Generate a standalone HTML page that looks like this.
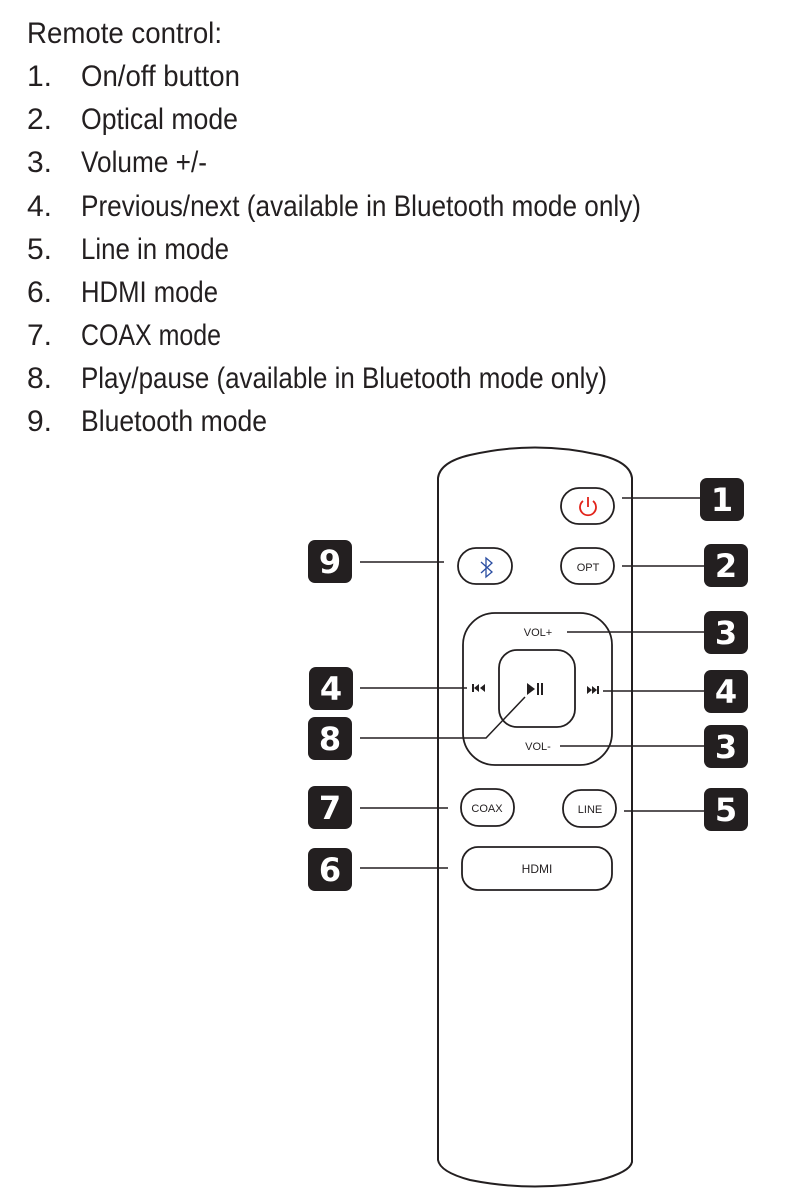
<!DOCTYPE html>
<html><head><meta charset="utf-8"><style>html,body{margin:0;padding:0;background:#fff}svg{display:block}</style></head><body>
<svg width="800" height="1200" viewBox="0 0 800 1200" xmlns="http://www.w3.org/2000/svg" font-family="Liberation Sans Narrow, Liberation Sans, sans-serif">
<g fill="#231f20" font-size="30" lengthAdjust="spacingAndGlyphs">
<text x="27" y="43" textLength="195" lengthAdjust="spacingAndGlyphs">Remote control:</text>
<text x="27" y="86">1.</text><text x="81" y="86" textLength="159" lengthAdjust="spacingAndGlyphs">On/off button</text>
<text x="27" y="129">2.</text><text x="81" y="129" textLength="157" lengthAdjust="spacingAndGlyphs">Optical mode</text>
<text x="27" y="172">3.</text><text x="81" y="172" textLength="126" lengthAdjust="spacingAndGlyphs">Volume +/-</text>
<text x="27" y="216">4.</text><text x="81" y="216" textLength="560" lengthAdjust="spacingAndGlyphs">Previous/next (available in Bluetooth mode only)</text>
<text x="27" y="259">5.</text><text x="81" y="259" textLength="148" lengthAdjust="spacingAndGlyphs">Line in mode</text>
<text x="27" y="302">6.</text><text x="81" y="302" textLength="137" lengthAdjust="spacingAndGlyphs">HDMI mode</text>
<text x="27" y="345">7.</text><text x="81" y="345" textLength="140" lengthAdjust="spacingAndGlyphs">COAX mode</text>
<text x="27" y="388">8.</text><text x="81" y="388" textLength="526" lengthAdjust="spacingAndGlyphs">Play/pause (available in Bluetooth mode only)</text>
<text x="27" y="431">9.</text><text x="81" y="431" textLength="186" lengthAdjust="spacingAndGlyphs">Bluetooth mode</text>
</g>
<!-- remote body -->
<path d="M438,1160 L438,478 Q440,462 470,455 Q535,440 600,455 Q630,462 632,478 L632,1162 Q630,1172 600,1180 Q535,1193 470,1180 Q440,1172 438,1160 Z" fill="none" stroke="#231f20" stroke-width="2"/>
<g fill="none" stroke="#231f20" stroke-width="1.8">
<rect x="561" y="488" width="53" height="36" rx="18"/>
<rect x="458" y="548" width="54" height="36" rx="18"/>
<rect x="561" y="548" width="53" height="36" rx="18"/>
<rect x="463" y="613" width="149" height="152" rx="32"/>
<rect x="499" y="650" width="76" height="77" rx="18"/>
<rect x="461" y="789" width="53" height="37" rx="18"/>
<rect x="563" y="790" width="53" height="37" rx="18"/>
<rect x="462" y="847" width="150" height="43" rx="16"/>
</g>
<!-- power icon -->
<g fill="none" stroke="#e2231a" stroke-width="1.8"><path d="M583,501 A8,8 0 1 0 593,501"/><line x1="588" y1="497" x2="588" y2="507"/></g>
<!-- bluetooth -->
<path d="M481,562 L492,572 L486,577 L486,558 L492,563 L481,573" fill="none" stroke="#2b4ea2" stroke-width="1.3"/>
<g font-family="Liberation Sans, sans-serif" fill="#231f20" text-anchor="middle">
<text x="588" y="571" font-size="11">OPT</text>
<text x="538" y="636" font-size="11">VOL+</text>
<text x="538" y="750" font-size="11">VOL-</text>
<text x="487" y="812" font-size="11">COAX</text>
<text x="590" y="813" font-size="11">LINE</text>
<text x="537" y="873" font-size="12">HDMI</text>
</g>
<!-- prev/next/play -->
<g fill="#231f20">
<rect x="472" y="684" width="2" height="8"/><polygon points="479,684 474,688 479,692"/><polygon points="485,684 480,688 485,692"/>
<polygon points="587,686 592,690 587,694"/><polygon points="592,686 597,690 592,694"/><rect x="597" y="686" width="2" height="8"/>
<polygon points="527,683 535,689 527,695"/><rect x="537" y="683" width="2" height="12"/><rect x="541" y="683" width="2" height="12"/>
</g>
<!-- leader lines -->
<g stroke="#231f20" stroke-width="1.5" fill="none">
<line x1="622" y1="498" x2="700" y2="498"/>
<line x1="360" y1="562" x2="444" y2="562"/>
<line x1="622" y1="566" x2="704" y2="566"/>
<line x1="567" y1="632" x2="704" y2="632"/>
<line x1="360" y1="688" x2="467" y2="688"/>
<line x1="603" y1="691" x2="704" y2="691"/>
<polyline points="360,738 486,738 525,697"/>
<line x1="560" y1="746" x2="704" y2="746"/>
<line x1="360" y1="808" x2="448" y2="808"/>
<line x1="624" y1="811" x2="704" y2="811"/>
<line x1="360" y1="868" x2="448" y2="868"/>
</g>
<!-- badges -->
<g font-family="DejaVu Sans, Liberation Sans, sans-serif" font-weight="bold" font-size="32" text-anchor="middle">
<g><rect x="700" y="478" width="44" height="43" rx="7" fill="#231f20"/><text x="722" y="511" fill="#fff">1</text></g>
<g><rect x="308" y="540" width="44" height="43" rx="7" fill="#231f20"/><text x="330" y="573" fill="#fff">9</text></g>
<g><rect x="704" y="544" width="44" height="43" rx="7" fill="#231f20"/><text x="726" y="577" fill="#fff">2</text></g>
<g><rect x="704" y="611" width="44" height="43" rx="7" fill="#231f20"/><text x="726" y="644" fill="#fff">3</text></g>
<g><rect x="309" y="667" width="44" height="43" rx="7" fill="#231f20"/><text x="331" y="700" fill="#fff">4</text></g>
<g><rect x="704" y="670" width="44" height="43" rx="7" fill="#231f20"/><text x="726" y="703" fill="#fff">4</text></g>
<g><rect x="308" y="717" width="44" height="43" rx="7" fill="#231f20"/><text x="330" y="750" fill="#fff">8</text></g>
<g><rect x="704" y="725" width="44" height="43" rx="7" fill="#231f20"/><text x="726" y="758" fill="#fff">3</text></g>
<g><rect x="308" y="786" width="44" height="43" rx="7" fill="#231f20"/><text x="330" y="819" fill="#fff">7</text></g>
<g><rect x="704" y="788" width="44" height="43" rx="7" fill="#231f20"/><text x="726" y="821" fill="#fff">5</text></g>
<g><rect x="308" y="848" width="44" height="43" rx="7" fill="#231f20"/><text x="330" y="881" fill="#fff">6</text></g>
</g>
</svg>
</body></html>
